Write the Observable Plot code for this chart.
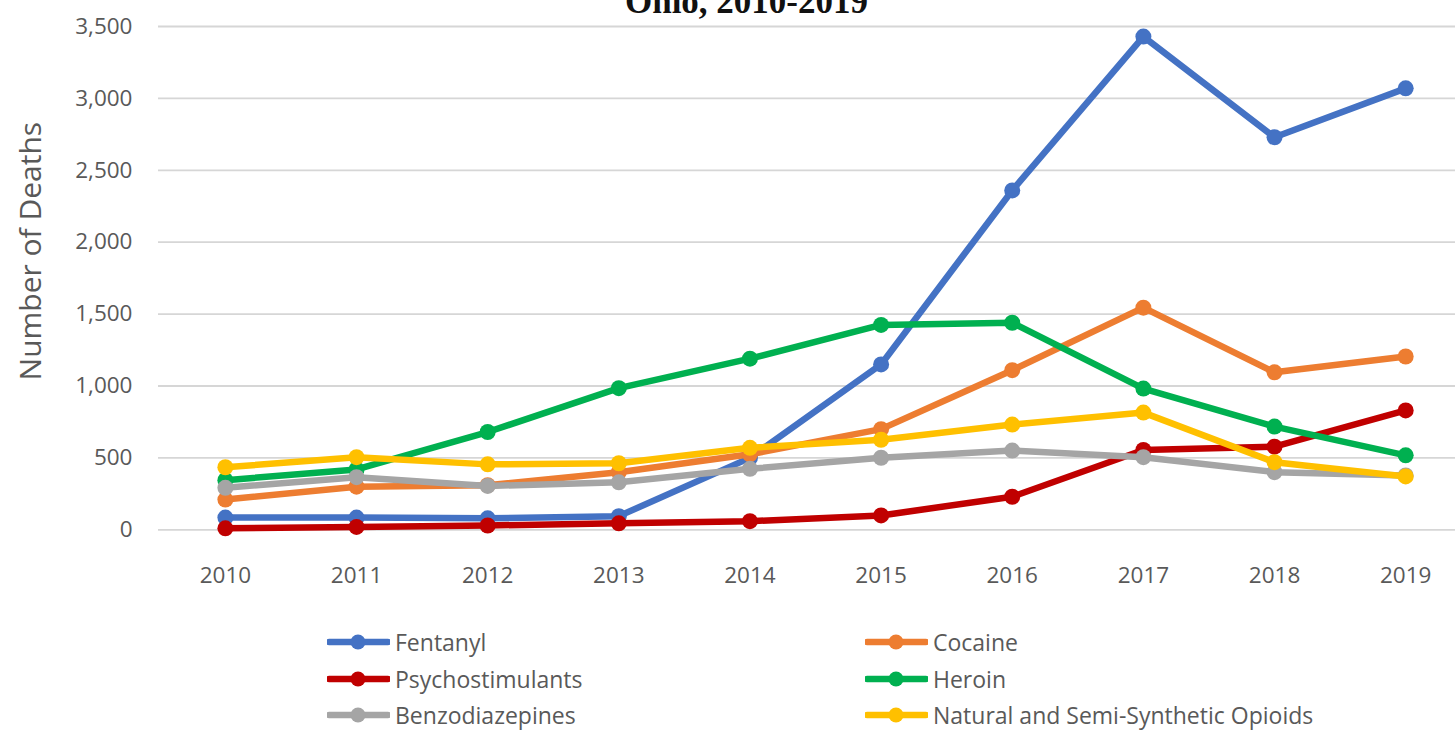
<!DOCTYPE html>
<html>
<head>
<meta charset="utf-8">
<script src="https://cdn.jsdelivr.net/npm/d3@7"></script>
<script src="https://cdn.jsdelivr.net/npm/@observablehq/plot@0.6"></script>
<style>
  html, body { margin: 0; padding: 0; background: #ffffff; overflow: hidden; }
  #wrap { position: relative; width: 1455px; height: 732px; }
  #title { position: absolute; left: 19px; width: 1455px; top: -16px; text-align: center;
           font: bold 35px "Liberation Serif", "Times New Roman", serif; line-height: 35px; color: #111; white-space: nowrap; }
  #chart { position: absolute; left: 0; top: 0; }
  .leg { position: absolute; display: flex; align-items: center; font: 23px "Open Sans", sans-serif; color: #595959; white-space: nowrap; }
  .leg svg { display: block; margin-right: 5px; }
</style>
</head>
<body>
<div id="wrap">
  <div id="chart"></div>
  <div id="title">Ohio, 2010-2019</div>
</div>
<script>
const years = [2010, 2011, 2012, 2013, 2014, 2015, 2016, 2017, 2018, 2019];
const seriesNames = ["Fentanyl", "Cocaine", "Psychostimulants", "Heroin", "Benzodiazepines", "Natural and Semi-Synthetic Opioids"];
const seriesColors = ["#4472C4", "#ED7D31", "#C00000", "#00B050", "#A5A5A5", "#FFC000"];
const fentanyl = [85, 85, 80, 95, 500, 1150, 2360, 3430, 2730, 3070];
const cocaine = [210, 300, 310, 400, 525, 700, 1110, 1545, 1095, 1205];
const psychostimulants = [10, 20, 30, 45, 60, 100, 230, 555, 578, 830];
const heroin = [345, 420, 680, 985, 1190, 1425, 1440, 982, 718, 518];
const benzodiazepines = [292, 366, 305, 330, 424, 501, 551, 505, 401, 378];
const naturalSemi = [435, 505, 455, 463, 570, 626, 732, 815, 470, 371];
const yTicks = [0, 500, 1000, 1500, 2000, 2500, 3000, 3500];
const yLabel = "Number of Deaths";

const seriesValues = [fentanyl, cocaine, psychostimulants, heroin, benzodiazepines, naturalSemi];

const marks = [
  Plot.ruleY(yTicks, {stroke: "#D6D6D6", strokeWidth: 1.8})
];
seriesNames.forEach((name, i) => {
  const rows = years.map((yr, j) => ({series: name, year: yr, value: seriesValues[i][j]}));
  marks.push(Plot.line(rows, {x: "year", y: "value", stroke: seriesColors[i], strokeWidth: 6.5, strokeLinejoin: "round", strokeLinecap: "round"}));
  marks.push(Plot.dot(rows, {x: "year", y: "value", r: 8, fill: seriesColors[i], stroke: "none"}));
});
marks.push(Plot.text([yLabel], {frameAnchor: "left", dx: -127, dy: -27, rotate: -90, fontSize: 30, fill: "#595959", textAnchor: "middle", lineAnchor: "middle"}));

const chart = Plot.plot({
  width: 1455,
  height: 600,
  marginLeft: 158,
  marginRight: 0,
  marginTop: 26,
  marginBottom: 70.7,
  style: {fontFamily: "'Open Sans', sans-serif", fontSize: "22.5px", color: "#595959", background: "#ffffff"},
  x: {domain: [2009.49, 2019.38], ticks: years, tickFormat: d => String(d), tickSize: 0, tickPadding: 37, label: null},
  y: {domain: [0, 3500], ticks: yTicks, tickFormat: d3.format(","), tickSize: 0, tickPadding: 26, label: null},
  marks
});
document.getElementById("chart").appendChild(chart);

// Legend (row-major, two columns)
const legX = [327, 865];
const legY = [642, 678.5, 715];
const wrap = document.getElementById("wrap");
seriesNames.forEach((name, i) => {
  const col = i % 2, row = Math.floor(i / 2);
  const div = document.createElement("div");
  div.className = "leg";
  div.style.left = legX[col] + "px";
  div.style.top = (legY[row] - 18) + "px";
  div.style.height = "36px";
  const c = seriesColors[i];
  div.innerHTML = `<svg width="63" height="20"><line x1="2" y1="10" x2="61" y2="10" stroke="${c}" stroke-width="6.5" stroke-linecap="round"/><circle cx="31" cy="10" r="7.5" fill="${c}"/></svg><span>${name}</span>`;
  wrap.appendChild(div);
});
</script>
</body>
</html>
